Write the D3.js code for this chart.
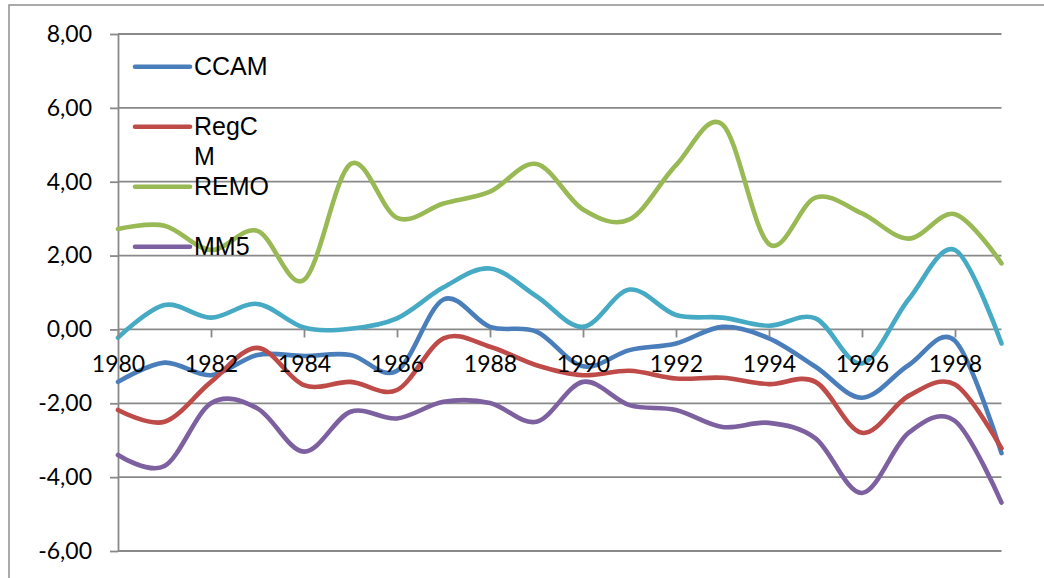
<!DOCTYPE html>
<html>
<head>
<meta charset="utf-8">
<script src="https://cdn.jsdelivr.net/npm/d3@7"></script>
<style>
  html, body { margin: 0; padding: 0; background: #ffffff; }
  svg { display: block; }
</style>
</head>
<body>
<svg id="chart" width="1044" height="578"></svg>
<script>
// Categories and tick values
const years = [1980, 1981, 1982, 1983, 1984, 1985, 1986, 1987, 1988, 1989,
               1990, 1991, 1992, 1993, 1994, 1995, 1996, 1997, 1998, 1999];
const yearTicks = [1980, 1982, 1984, 1986, 1988, 1990, 1992, 1994, 1996, 1998];
const valueTicks = [-6, -4, -2, 0, 2, 4, 6, 8];

// Series values, one per year
const ccam  = [-1.42, -0.90, -1.24, -0.69, -0.72, -0.69, -1.12, 0.81, 0.07, -0.06,
               -1.00, -0.56, -0.38, 0.07, -0.24, -1.01, -1.85, -0.97, -0.31, -3.35];
const regcm = [-2.18, -2.50, -1.42, -0.50, -1.51, -1.42, -1.64, -0.24, -0.47, -0.97,
               -1.24, -1.12, -1.33, -1.31, -1.48, -1.42, -2.80, -1.80, -1.49, -3.22];
const remo  = [2.72, 2.81, 2.15, 2.67, 1.34, 4.48, 3.02, 3.41, 3.73, 4.48,
               3.25, 2.98, 4.45, 5.55, 2.31, 3.57, 3.14, 2.46, 3.12, 1.79];
const mm5   = [-3.40, -3.70, -2.00, -2.14, -3.31, -2.23, -2.41, -1.96, -1.99, -2.50,
               -1.42, -2.05, -2.18, -2.64, -2.53, -2.95, -4.43, -2.80, -2.48, -4.69];
const fifth = [-0.22, 0.66, 0.32, 0.69, 0.05, 0.02, 0.30, 1.14, 1.65, 0.90,
               0.07, 1.08, 0.39, 0.32, 0.10, 0.30, -0.92, 0.81, 2.15, -0.38];

// Names shown in the legend box (it has room for four entries)
const legendNames = ["CCAM", "RegCM", "REMO", "MM5"];

const series = [
  { name: "CCAM",  values: ccam,  color: "#4a7ebb" },
  { name: "RegCM", values: regcm, color: "#be4b48" },
  { name: "REMO",  values: remo,  color: "#98b954" },
  { name: "MM5",   values: mm5,   color: "#7d60a0" },
  { name: "S5",    values: fifth, color: "#46aac5" }
];

const svg = d3.select("#chart");
const gridColor = "#898989";
const plotLeft = 118, plotRight = 1001.5, plotTop = 34, plotBottom = 551;

const x = d3.scalePoint().domain(years).range([plotLeft, plotRight]);
const y = d3.scaleLinear().domain([-6, 8]).range([plotBottom, plotTop]);

const locale = d3.formatLocale({ decimal: ",", thousands: ".", grouping: [3], currency: ["", ""], minus: "-" });
const fmt = locale.format(".2f");

// Outer frame (top and left edges)
svg.append("path")
  .attr("d", "M9,578V5H1044")
  .attr("fill", "none")
  .attr("stroke", "#8e8e8e")
  .attr("stroke-width", 1.5);

// Horizontal gridlines
svg.append("g")
  .selectAll("line")
  .data(valueTicks)
  .join("line")
  .attr("x1", plotLeft)
  .attr("x2", plotRight)
  .attr("y1", d => y(d))
  .attr("y2", d => y(d))
  .attr("stroke", gridColor)
  .attr("stroke-width", 1.8);

// Value axis
const yAxis = svg.append("g")
  .attr("transform", `translate(${plotLeft},0)`)
  .call(d3.axisLeft(y).tickValues(valueTicks).tickSize(8).tickSizeOuter(0).tickPadding(18).tickFormat(fmt));
yAxis.select(".domain").attr("stroke", gridColor).attr("stroke-width", 1.8);
yAxis.selectAll(".tick line").attr("stroke", gridColor).attr("stroke-width", 1.8);
yAxis.selectAll(".tick text")
  .attr("fill", "#000")
  .style("font-family", "Lato, 'Liberation Sans', sans-serif")
  .style("font-size", "23px");

// Smoothed series lines
const line = d3.line()
  .x((d, i) => x(years[i]))
  .y(d => y(d))
  .curve(d3.curveCatmullRom.alpha(0));

svg.append("g")
  .selectAll("path")
  .data(series)
  .join("path")
  .attr("d", d => line(d.values))
  .attr("fill", "none")
  .attr("stroke", d => d.color)
  .attr("stroke-width", 4.6)
  .attr("stroke-linecap", "round")
  .attr("stroke-linejoin", "round");

// Category axis crossing at zero, labels drawn over the lines
const xAxis = svg.append("g")
  .attr("transform", `translate(0,${y(0)})`)
  .call(d3.axisBottom(x).tickValues(yearTicks).tickSize(8).tickSizeOuter(0).tickPadding(18).tickFormat(d => String(d)));
xAxis.select(".domain").remove();
xAxis.selectAll(".tick line").attr("stroke", gridColor).attr("stroke-width", 1.8);
xAxis.selectAll(".tick text")
  .attr("fill", "#000")
  .style("font-family", "Lato, 'Liberation Sans', sans-serif")
  .style("font-size", "23px");

// Legend
const legendX = 135, legendLine = 55, legendTop = 66.7, legendStep = 60, wrapWidth = 80;
const legend = svg.append("g");
const items = series.filter(s => legendNames.includes(s.name));

items.forEach((s, i) => {
  const cy = legendTop + i * legendStep;
  legend.append("line")
    .attr("x1", legendX).attr("x2", legendX + legendLine)
    .attr("y1", cy).attr("y2", cy)
    .attr("stroke", s.color)
    .attr("stroke-width", 4.6)
    .attr("stroke-linecap", "round");
  const t = legend.append("text")
    .attr("x", legendX + legendLine + 4)
    .attr("y", cy + 7.8)
    .attr("fill", "#000")
    .style("font-family", "'Liberation Sans', Arial, sans-serif")
    .style("font-size", "25px");
  // character wrap inside the narrow legend column
  let lineText = "";
  let span = t.append("tspan").attr("x", legendX + legendLine + 4).attr("dy", 0);
  for (const ch of s.name) {
    span.text(lineText + ch);
    if (span.node().getComputedTextLength() > wrapWidth && lineText.length) {
      span.text(lineText);
      lineText = ch;
      span = t.append("tspan").attr("x", legendX + legendLine + 4).attr("dy", 30).text(ch);
    } else {
      lineText += ch;
    }
  }
});
</script>
</body>
</html>
